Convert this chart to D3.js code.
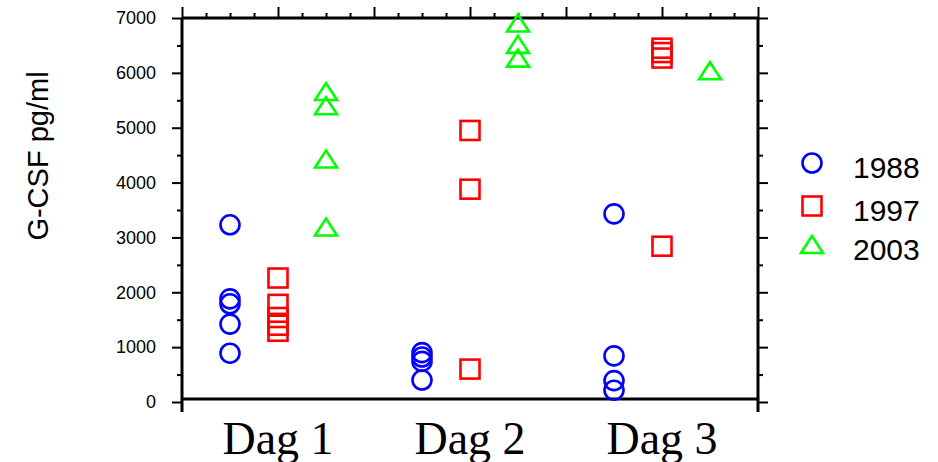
<!DOCTYPE html>
<html><head><meta charset="utf-8">
<script src="https://cdn.jsdelivr.net/npm/d3@7"></script>
<style>html,body{margin:0;padding:0;background:#fff;}svg{display:block;}</style>
</head><body>
<script>
const categories = ["Dag 1", "Dag 2", "Dag 3"];
const seriesNames = ["1988", "1997", "2003"];
const values1988 = [[3230, 1880, 1790, 1420, 890], [900, 820, 740, 400], [3430, 840, 390, 215]];
const values1997 = [[2260, 1780, 1540, 1400, 1290], [4950, 3880, 600], [6450, 6370, 6270, 2840]];
const values2003 = [[5650, 5390, 4420, 3180], [6900, 6510, 6260], [6030]];
const yTicks = [0, 1000, 2000, 3000, 4000, 5000, 6000, 7000];
const colors = ["#0000ff", "#ff0000", "#00ff00"];
const shapes = ["circle", "square", "triangle"];
const offsets = [-0.5, 0, 0.5];

const W = 938, H = 462;
const svg = d3.select("body").append("svg").attr("width", W).attr("height", H);
const x = d3.scaleLinear().domain([0, 6]).range([182, 758]);
const y = d3.scaleLinear().domain([0, 7000]).range([402, 18]);
const catPos = categories.map((c, i) => 1 + 2 * i);

const font = "'Liberation Sans', Arial, sans-serif";
const axisCol = "#000";

// Left axis major
const leftMajor = svg.append("g").attr("transform", `translate(${x(0)},0)`)
  .call(d3.axisLeft(y).tickValues(yTicks).tickSize(10).tickSizeOuter(0).tickPadding(16).tickFormat(d3.format("d")));
leftMajor.select(".domain").remove();
leftMajor.selectAll("line").attr("stroke", axisCol).attr("stroke-width", 2);
leftMajor.selectAll("text").attr("font-family", font).attr("font-size", 18).attr("fill", "#000");
// Left minor
const minorVals = yTicks.slice(0, -1).map(v => v + 500);
const leftMinor = svg.append("g").attr("transform", `translate(${x(0)},0)`)
  .call(d3.axisLeft(y).tickValues(minorVals).tickSize(5).tickFormat(""));
leftMinor.select(".domain").remove();
leftMinor.selectAll("line").attr("stroke", axisCol).attr("stroke-width", 2);

// Right axis
const rightMajor = svg.append("g").attr("transform", `translate(${x(6)},0)`)
  .call(d3.axisRight(y).tickValues(yTicks).tickSize(10).tickFormat(""));
rightMajor.select(".domain").remove();
rightMajor.selectAll("line").attr("stroke", axisCol).attr("stroke-width", 2);
const rightMinor = svg.append("g").attr("transform", `translate(${x(6)},0)`)
  .call(d3.axisRight(y).tickValues(minorVals).tickSize(5).tickFormat(""));
rightMinor.select(".domain").remove();
rightMinor.selectAll("line").attr("stroke", axisCol).attr("stroke-width", 2);

// Top axis
const topMajorVals = d3.range(0, 7);
const topMinorVals = d3.range(0, 24).map(i => i / 4).filter(v => v % 1 !== 0);
const topMajor = svg.append("g").attr("transform", `translate(0,${y(7000)})`)
  .call(d3.axisTop(x).tickValues(topMajorVals).tickSize(11).tickFormat(""));
topMajor.select(".domain").remove();
topMajor.selectAll("line").attr("stroke", axisCol).attr("stroke-width", 2);
const topMinor = svg.append("g").attr("transform", `translate(0,${y(7000)})`)
  .call(d3.axisTop(x).tickValues(topMinorVals).tickSize(5).tickFormat(""));
topMinor.select(".domain").remove();
topMinor.selectAll("line").attr("stroke", axisCol).attr("stroke-width", 2);

// Frame lines
const bottomY = y(0) - 3;
svg.append("line").attr("x1", x(0)).attr("x2", x(0)).attr("y1", y(7000)).attr("y2", y(0) + 10)
  .attr("stroke", axisCol).attr("stroke-width", 3);
svg.append("line").attr("x1", x(6)).attr("x2", x(6)).attr("y1", y(7000)).attr("y2", y(0) + 10)
  .attr("stroke", axisCol).attr("stroke-width", 3);
svg.append("line").attr("x1", x(0)).attr("x2", x(6)).attr("y1", y(7000)).attr("y2", y(7000))
  .attr("stroke", axisCol).attr("stroke-width", 3);
svg.append("line").attr("x1", x(0)).attr("x2", x(6)).attr("y1", bottomY).attr("y2", bottomY)
  .attr("stroke", axisCol).attr("stroke-width", 3);

// Category labels
svg.append("g").selectAll("text").data(categories).join("text")
  .attr("x", (d, i) => x(catPos[i])).attr("y", 454)
  .attr("text-anchor", "middle")
  .attr("font-family", "'Liberation Serif', 'Times New Roman', serif")
  .attr("font-size", 46).attr("fill", "#000").text(d => d);

// Y label
svg.append("text").attr("transform", "translate(48,156) rotate(-90)")
  .attr("text-anchor", "middle").attr("font-family", font).attr("font-size", 29)
  .attr("fill", "#000").text("G-CSF pg/ml");

function drawMarker(g, shape, color) {
  if (shape === "circle") {
    g.append("circle").attr("r", 9.5).attr("fill", "none").attr("stroke", color).attr("stroke-width", 2.6);
  } else if (shape === "square") {
    g.append("rect").attr("x", -9.5).attr("y", -9.5).attr("width", 19).attr("height", 19)
      .attr("fill", "none").attr("stroke", color).attr("stroke-width", 2.6);
  } else {
    const p = d3.path();
    p.moveTo(0, -9); p.lineTo(11, 8); p.lineTo(-11, 8); p.closePath();
    g.append("path").attr("d", p.toString()).attr("fill", "none").attr("stroke", color)
      .attr("stroke-width", 2.6).attr("stroke-linejoin", "miter");
  }
}

const allSeries = [values1988, values1997, values2003];
allSeries.forEach((series, si) => {
  const pts = [];
  series.forEach((vals, ci) => vals.forEach(v => pts.push({ c: catPos[ci] + offsets[si], v })));
  const g = svg.append("g");
  pts.forEach(p => {
    const m = g.append("g").attr("transform", `translate(${x(p.c)},${y(p.v)})`);
    drawMarker(m, shapes[si], colors[si]);
  });
});

// Legend
const legend = svg.append("g");
const legY = [163, 206, 245];
seriesNames.forEach((name, i) => {
  const m = legend.append("g").attr("transform", `translate(812,${legY[i]})`);
  drawMarker(m, shapes[i], colors[i]);
  legend.append("text").attr("x", 853).attr("y", legY[i] + 15)
    .attr("font-family", font).attr("font-size", 30).attr("fill", "#000").text(name);
});
</script>
</body></html>
